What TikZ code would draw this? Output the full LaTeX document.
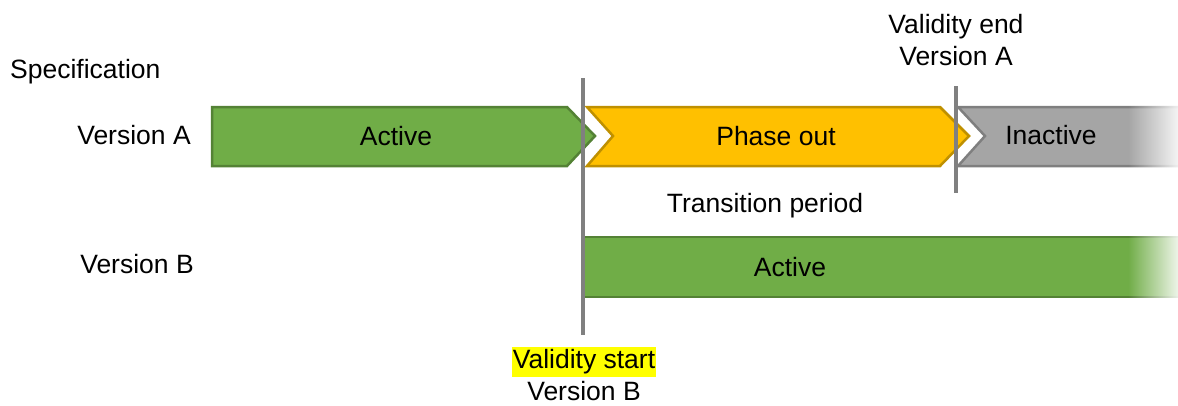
\documentclass[tikz,border=0pt]{standalone}
\usepackage{fontspec}
\setmainfont{Liberation Sans}
\usetikzlibrary{fadings}
\definecolor{vgreen}{HTML}{70AD47}
\definecolor{vgreenD}{HTML}{548235}
\definecolor{vgold}{HTML}{FFC000}
\definecolor{vgoldD}{HTML}{BF9000}
\definecolor{vgrey}{HTML}{A5A5A5}
\definecolor{vgreyD}{HTML}{7F7F7F}
\definecolor{vline}{HTML}{808080}
\definecolor{hl}{HTML}{FFFF00}
\tikzfading[name=fadeinright, left color=transparent!100, right color=transparent!12]
\tikzset{
  lbl/.style={font=\fontsize{26.5}{32}\selectfont, inner sep=0pt, text=black},
  greenbox/.style={draw=vgreenD, fill=vgreen, line width=2.5pt, line join=miter},
  goldbox/.style={draw=vgoldD, fill=vgold, line width=2.5pt, line join=miter},
  greybox/.style={draw=vgreyD, fill=vgrey, line width=2.5pt, line join=miter},
  marker/.style={draw=vline, line width=4pt},
  whitefade/.style={fill=white, path fading=fadeinright},
}
\begin{document}
\begin{tikzpicture}[x=1pt,y=-1pt]
\useasboundingbox (0,0) rectangle (1178,405);

% Version A: Active chevron
\path[greenbox] (212,107) -- (567,107) -- (595,136) -- (567,166) -- (212,166) -- cycle;
% Version A: Phase out chevron
\path[goldbox] (587,107) -- (940,107) -- (969,136) -- (940,166) -- (587,166) -- (613,136) -- cycle;
% Version A: Inactive (fading to the right)
\fill[vgrey] (1180,107) -- (958,107) -- (985,136) -- (958,166) -- (1180,166) -- cycle;
\draw[vgreyD, line width=2.5pt, line join=miter] (1180,107) -- (958,107) -- (985,136) -- (958,166) -- (1180,166);
\path[whitefade] (1128,100) rectangle (1178,173);

% Version B: Active bar (fading to the right)
\fill[vgreen] (585,237) rectangle (1180,297);
\draw[vgreenD, line width=2.5pt] (585,237) -- (1180,237) (585,297) -- (1180,297);
\path[whitefade] (1128,230) rectangle (1178,304);

% labels
\node[lbl, anchor=west] (spec) at (10,72) {Specification};
\node[lbl] (verA) at (134,135) {Version A};
\node[lbl] (verB) at (137,264) {Version B};
\node[lbl] (actA) at (396,136) {Active};
\node[lbl] (phase) at (776,136) {Phase out};
\node[lbl] (inact) at (1051,135) {Inactive};
\node[lbl] (trans) at (765,206) {Transition period};
\node[lbl] (actB) at (790,267) {Active};

\node[lbl, align=center] (vend) at (956,40) {Validity end\\Version A};
\node[lbl, fill=hl, inner xsep=1pt, inner ysep=3pt] (vstart) at (584,362) {Validity start};
\node[lbl] (vstartB) at (584,391) {Version B};

% markers
\coordinate (m1top) at (583,78);
\coordinate (m1bot) at (583,335);
\coordinate (m2top) at (956,86);
\coordinate (m2bot) at (956,193);
\draw[marker] (m1top) -- (m1bot);
\draw[marker] (m2top) -- (m2bot);
\end{tikzpicture}
\end{document}
